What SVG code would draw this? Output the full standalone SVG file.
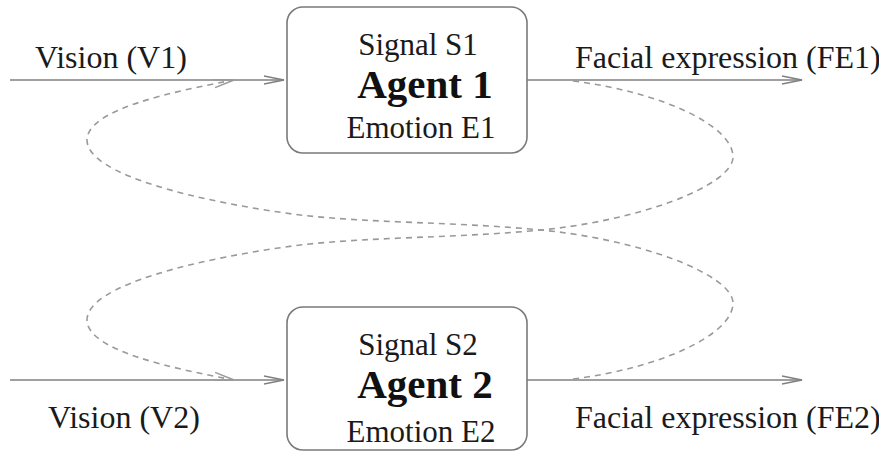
<svg xmlns="http://www.w3.org/2000/svg" width="879" height="452" viewBox="0 0 879 452">
<style>
.box{fill:#fff;stroke:#7a7a7a;stroke-width:1.6}
.t{font-family:"Liberation Serif","Times New Roman",serif;font-size:31px;fill:#1a1a1a}
.s{font-family:"Liberation Serif","Times New Roman",serif;font-size:32px;fill:#1a1a1a}
.b{font-family:"Liberation Serif","Times New Roman",serif;font-size:41px;font-weight:bold;fill:#111}
.ln{fill:none;stroke:#808080;stroke-width:1.6}
.dl{fill:none;stroke:#9a9a9a;stroke-width:1.6;stroke-dasharray:6 5}
</style>
<defs>
<marker id="arr" markerUnits="userSpaceOnUse" markerWidth="24" markerHeight="12" refX="0" refY="0" viewBox="-22 -6 24 12" orient="auto" overflow="visible">
<path d="M-20,-4 L0,0 L-20,4" fill="none" stroke="#808080" stroke-width="1.5"/>
</marker>
<marker id="arrd" markerUnits="userSpaceOnUse" markerWidth="24" markerHeight="12" refX="0" refY="0" viewBox="-22 -6 24 12" orient="auto" overflow="visible">
<path d="M-20,-4 L0,0 L-20,4" fill="none" stroke="#9a9a9a" stroke-width="1.5"/>
</marker>
</defs>
<g id="connectors">
<line class="ln" x1="10" y1="80" x2="284" y2="80" marker-end="url(#arr)"/>
<line class="ln" x1="527" y1="80" x2="802" y2="80" marker-end="url(#arr)"/>
<line class="ln" x1="10" y1="380" x2="284" y2="380" marker-end="url(#arr)"/>
<line class="ln" x1="527" y1="380" x2="802" y2="380" marker-end="url(#arr)"/>
<path class="dl" d="M573 81 C660 92 733 125 733 157 C733 185 640 222 530 231 C450 238 370 237 300 245 C200 258 87 285 87 320 C87 350 170 368 234 380" marker-end="url(#arrd)"/>
<path class="dl" d="M573 379 C660 368 733 335 733 303 C733 275 640 238 530 229 C450 222 370 223 300 215 C200 202 87 175 87 140 C87 110 170 92 234 80" marker-end="url(#arrd)"/>
</g>
<g id="agent1">
<rect class="box" x="287" y="7" width="240" height="146" rx="16"/>
<text class="t" x="418" y="55" text-anchor="middle">Signal S1</text>
<text class="b" x="425" y="98" text-anchor="middle">Agent 1</text>
<text class="t" x="421" y="138" text-anchor="middle">Emotion E1</text>
</g>
<g id="agent2">
<rect class="box" x="287" y="307" width="240" height="143" rx="16"/>
<text class="t" x="418" y="355" text-anchor="middle">Signal S2</text>
<text class="b" x="425" y="398" text-anchor="middle">Agent 2</text>
<text class="t" x="421" y="442" text-anchor="middle">Emotion E2</text>
</g>
<g id="labels">
<text class="s" x="35" y="68">Vision (V1)</text>
<text class="s" x="575" y="68">Facial expression (FE1)</text>
<text class="s" x="48" y="428">Vision (V2)</text>
<text class="s" x="575" y="428">Facial expression (FE2)</text>
</g>
</svg>
